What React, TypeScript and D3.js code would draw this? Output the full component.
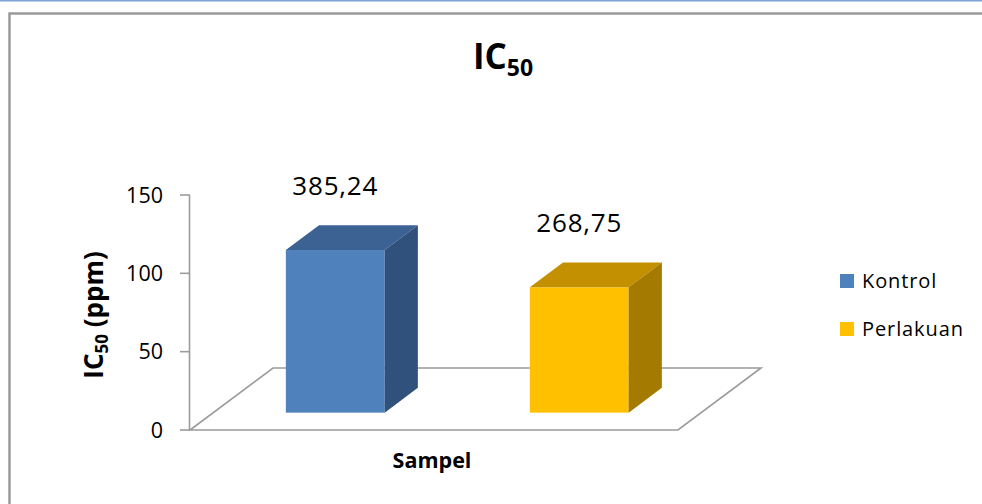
import React, { useEffect, useRef } from 'react';
import * as d3 from 'd3';

const categories = ['Kontrol', 'Perlakuan'];
// heights as drawn against the 0-150 axis
const values = [103.8, 80];
// labels printed above the bars
const valueLabels = ['385,24', '268,75'];
const yTicks = [0, 50, 100, 150];

const frontColors = ['#4f81bd', '#ffc000'];
const topColors = ['#3c6294', '#c29000'];
const sideColors = ['#30517b', '#a47b00'];

const FONT = "'Open Sans', 'Liberation Sans', sans-serif";

const App = () => {
  const node = useRef<SVGSVGElement | null>(null);

  useEffect(() => {
    const svg = d3.select(node.current);
    svg.selectAll('*').remove();

    // page frame
    svg.append('rect').attr('x', 0).attr('y', 0).attr('width', 982).attr('height', 1.5).attr('fill', '#7aa3d6');
    svg
      .append('path')
      .attr('d', 'M9.5,504 L9.5,13.5 L982,13.5')
      .attr('fill', 'none')
      .attr('stroke', '#9a9a9a')
      .attr('stroke-width', 2.5);

    const floor = { left: 190, right: 678, dx: 83, dy: -62 };
    const z0 = 0.28;
    const z1 = 0.68;

    const x = d3
      .scaleBand()
      .domain(categories)
      .range([floor.left, floor.right])
      .paddingInner(0.595)
      .paddingOuter(0.2975);
    const y = d3.scaleLinear().domain([0, 150]).range([430, 195]);

    // floor
    const fl = d3.path();
    fl.moveTo(floor.left, y(0));
    fl.lineTo(floor.right, y(0));
    fl.lineTo(floor.right + floor.dx, y(0) + floor.dy);
    fl.lineTo(floor.left + floor.dx, y(0) + floor.dy);
    fl.closePath();
    svg
      .append('path')
      .attr('d', fl.toString())
      .attr('fill', 'none')
      .attr('stroke', '#9b9b9b')
      .attr('stroke-width', 1.6);

    // y axis
    const axis = svg.append('g');
    axis
      .append('line')
      .attr('x1', floor.left - 0.5)
      .attr('x2', floor.left - 0.5)
      .attr('y1', y(150))
      .attr('y2', y(0))
      .attr('stroke', '#9b9b9b')
      .attr('stroke-width', 1.6);
    const ticks = axis.selectAll('g.tick').data(yTicks).enter().append('g').attr('class', 'tick');
    ticks
      .append('line')
      .attr('x1', floor.left - 10)
      .attr('x2', floor.left)
      .attr('y1', d => y(d))
      .attr('y2', d => y(d))
      .attr('stroke', '#9b9b9b')
      .attr('stroke-width', 1.6);
    ticks
      .append('text')
      .attr('x', floor.left - 27)
      .attr('y', d => y(d))
      .attr('dy', '0.35em')
      .attr('text-anchor', 'end')
      .attr('font-family', FONT)
      .attr('font-size', 21.5)
      .attr('fill', '#000')
      .text(d => d);

    // bars
    const bw = x.bandwidth();
    const ddx = (z1 - z0) * floor.dx;
    const ddy = (z1 - z0) * floor.dy;
    categories.forEach((c, i) => {
      const x0 = (x(c) as number) + z0 * floor.dx;
      const base = y(0) + z0 * floor.dy;
      const top = base - (y(0) - y(values[i]));
      const g = svg.append('g');
      g.append('rect')
        .attr('x', x0)
        .attr('y', top)
        .attr('width', bw)
        .attr('height', base - top)
        .attr('fill', frontColors[i]);
      g.append('path')
        .attr('d', `M${x0},${top}L${x0 + bw},${top}L${x0 + bw + ddx},${top + ddy}L${x0 + ddx},${top + ddy}Z`)
        .attr('fill', topColors[i]);
      g.append('path')
        .attr('d', `M${x0 + bw},${top}L${x0 + bw + ddx},${top + ddy}L${x0 + bw + ddx},${base + ddy}L${x0 + bw},${base}Z`)
        .attr('fill', sideColors[i]);
      g.append('text')
        .attr('x', x0 + bw / 2)
        .attr('y', top - 55)
        .attr('text-anchor', 'middle')
        .attr('font-family', FONT)
        .attr('font-size', 26)
        .attr('letter-spacing', 0.8)
        .attr('fill', '#000')
        .text(valueLabels[i]);
    });

    // title
    const title = svg
      .append('text')
      .attr('x', 503)
      .attr('y', 69)
      .attr('text-anchor', 'middle')
      .attr('font-family', FONT)
      .attr('font-weight', 'bold')
      .attr('font-size', 35)
      .attr('fill', '#000');
    title.append('tspan').text('IC');
    title.append('tspan').attr('font-size', 23).attr('dy', 7).text('50');

    // y axis title
    const yt = svg
      .append('text')
      .attr('transform', 'translate(103,315) rotate(-90)')
      .attr('text-anchor', 'middle')
      .attr('font-family', FONT)
      .attr('font-weight', 'bold')
      .attr('font-size', 26)
      .attr('fill', '#000');
    yt.append('tspan').text('IC');
    yt.append('tspan').attr('font-size', 17).attr('dy', 5).text('50');
    yt.append('tspan').attr('dy', -5).text(' (ppm)');

    // x axis title
    svg
      .append('text')
      .attr('x', (floor.left + floor.right) / 2 - 2)
      .attr('y', 468)
      .attr('text-anchor', 'middle')
      .attr('font-family', FONT)
      .attr('font-weight', 'bold')
      .attr('font-size', 21.5)
      .attr('fill', '#000')
      .text('Sampel');

    // legend
    const legend = svg
      .selectAll('g.legend')
      .data(categories)
      .enter()
      .append('g')
      .attr('class', 'legend')
      .attr('transform', (d, i) => `translate(840,${274 + i * 48})`);
    legend
      .append('rect')
      .attr('width', 14)
      .attr('height', 14)
      .attr('fill', (d, i) => frontColors[i]);
    legend
      .append('text')
      .attr('x', 22)
      .attr('y', 14)
      .attr('font-family', FONT)
      .attr('font-size', 20)
      .attr('letter-spacing', 0.9)
      .attr('fill', '#000')
      .text(d => d);
  }, []);

  return (
    <svg
      ref={node}
      width={982}
      height={504}
      style={{ position: 'absolute', left: 0, top: 0, background: '#fff' }}
    />
  );
};

export default App;
